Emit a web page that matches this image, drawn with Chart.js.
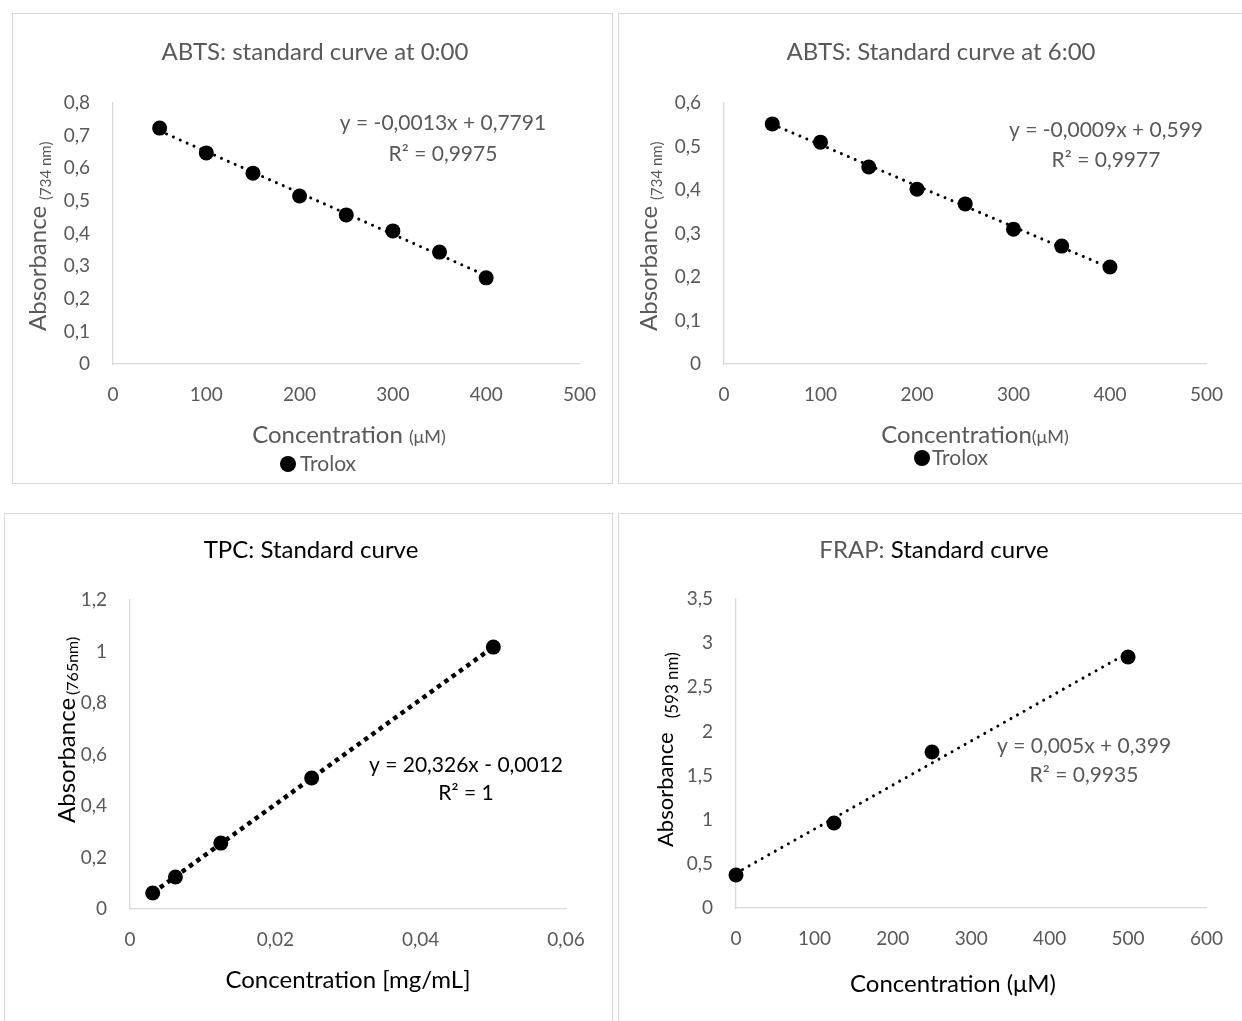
<!DOCTYPE html>
<html>
<head>
<meta charset="utf-8">
<script src="https://cdn.jsdelivr.net/npm/chart.js@4.4.0/dist/chart.umd.min.js"></script>
<style>
  body { margin: 0; background: #fff; width: 1242px; height: 1021px; position: relative; overflow: hidden; }
  .box { position: absolute; border: 1px solid #d9d9d9; box-sizing: border-box; }
  canvas { position: absolute; }
</style>
</head>
<body>
<div class="box" style="left:12px;top:13px;width:601px;height:471px"></div>
<div class="box" style="left:618px;top:13px;width:640px;height:471px"></div>
<div class="box" style="left:4px;top:513px;width:609px;height:520px"></div>
<div class="box" style="left:618px;top:513px;width:640px;height:520px"></div>

<canvas id="c1" width="615" height="495" style="left:0;top:0"></canvas>
<canvas id="c2" width="627" height="495" style="left:615px;top:0"></canvas>
<canvas id="c3" width="615" height="526" style="left:0;top:495px"></canvas>
<canvas id="c4" width="627" height="526" style="left:615px;top:495px"></canvas>

<script>
// ---- data ----
const abts0Conc = [50, 100, 150, 200, 250, 300, 350, 400];
const abts0Abs  = [0.723, 0.647, 0.585, 0.515, 0.457, 0.408, 0.343, 0.264];

const abts6Conc = [50, 100, 150, 200, 250, 300, 350, 400];
const abts6Abs  = [0.552, 0.510, 0.453, 0.402, 0.368, 0.310, 0.271, 0.223];

const tpcConc = [0.003125, 0.00625, 0.0125, 0.025, 0.05];
const tpcAbs  = [0.062, 0.124, 0.256, 0.509, 1.017];

const frapConc = [0, 125, 250, 500];
const frapAbs  = [0.374, 0.963, 1.767, 2.843];

// axis ranges [min, max, step]
const abts0X = [0, 500, 100], abts0Y = [0, 0.8, 0.1];
const abts6X = [0, 500, 100], abts6Y = [0, 0.6, 0.1];
const tpcX = [0, 0.06, 0.02],  tpcY = [0, 1.2, 0.2];
const frapX = [0, 600, 100],   frapY = [0, 3.5, 0.5];

// trendline labels as printed
const abts0Eq = ['y = -0,0013x + 0,7791', 'R² = 0,9975'];
const abts6Eq = ['y = -0,0009x + 0,599', 'R² = 0,9977'];
const tpcEq   = ['y = 20,326x - 0,0012', 'R² = 1'];
const frapEq  = ['y = 0,005x + 0,399', 'R² = 0,9935'];

const FONT = 'Lato, "Open Sans", sans-serif';
const GRAY = '#595959';
const BLACK = '#000000';

function comma(v) {
  return String(+Number(v).toFixed(4)).replace('.', ',');
}

// least squares line through the points, drawn from min x to max x
function trend(xs, ys) {
  const n = xs.length;
  const mx = xs.reduce((a, b) => a + b, 0) / n;
  const my = ys.reduce((a, b) => a + b, 0) / n;
  let sxy = 0, sxx = 0;
  for (let i = 0; i < n; i++) {
    sxy += (xs[i] - mx) * (ys[i] - my);
    sxx += (xs[i] - mx) * (xs[i] - mx);
  }
  const m = sxy / sxx, b = my - m * mx;
  const x0 = Math.min(...xs), x1 = Math.max(...xs);
  return [{ x: x0, y: m * x0 + b }, { x: x1, y: m * x1 + b }];
}

// draws a run of text parts [{t, size, color}] starting at x
function drawParts(ctx, parts, x, y, align) {
  let total = 0;
  parts.forEach(p => { ctx.font = p.size + 'px ' + FONT; p.w = ctx.measureText(p.t).width; total += p.w; });
  let cx = align === 'center' ? x - total / 2 : x;
  ctx.textAlign = 'left';
  ctx.textBaseline = 'alphabetic';
  parts.forEach(p => {
    ctx.font = p.size + 'px ' + FONT;
    ctx.fillStyle = p.color;
    ctx.fillText(p.t, cx, y + (p.dy || 0));
    cx += p.w;
  });
}

const textPlugin = {
  id: 'panelText',
  afterDraw(chart) {
    const t = chart.options.plugins.panelText;
    const ctx = chart.ctx;
    ctx.save();
    drawParts(ctx, t.title.parts, t.title.x, t.title.y, 'center');
    // equation
    ctx.textAlign = 'center';
    ctx.textBaseline = 'alphabetic';
    ctx.fillStyle = t.eq.color;
    ctx.font = t.eq.size + 'px ' + FONT;
    ctx.fillText(t.eq.lines[0], t.eq.x, t.eq.y[0]);
    ctx.fillText(t.eq.lines[1], t.eq.x, t.eq.y[1]);
    // x axis title
    drawParts(ctx, t.xTitle.parts, t.xTitle.x, t.xTitle.y, 'center');
    // y axis title (rotated, with small subscript)
    const yt = t.yTitle;
    ctx.save();
    ctx.translate(yt.x, yt.y);
    ctx.rotate(-Math.PI / 2);
    ctx.textAlign = 'left';
    ctx.fillStyle = yt.color;
    ctx.font = yt.size + 'px ' + FONT;
    ctx.fillText(yt.main, 0, 0);
    const mw = ctx.measureText(yt.main).width;
    ctx.font = yt.subSize + 'px ' + FONT;
    ctx.fillText(yt.sub, mw + yt.gap, yt.shift);
    ctx.restore();
    // legend
    if (t.legend) {
      const lg = t.legend;
      ctx.fillStyle = BLACK;
      ctx.beginPath();
      ctx.arc(lg.mx, lg.my, 8, 0, Math.PI * 2);
      ctx.fill();
      ctx.fillStyle = GRAY;
      ctx.font = lg.size + 'px ' + FONT;
      ctx.textAlign = 'left';
      ctx.fillText(chart.data.datasets[0].label, lg.tx, lg.ty);
    }
    ctx.restore();
  }
};

function makeChart(id, cfg) {
  const pts = cfg.xs.map((x, i) => ({ x: x, y: cfg.ys[i] }));
  const axis = (r, isX) => ({
    type: 'linear',
    min: r[0], max: r[1],
    grid: { display: false, drawTicks: false },
    border: { display: true, color: '#d9d9d9', width: 1.3 },
    ticks: {
      stepSize: r[2],
      color: GRAY,
      padding: isX ? 19 : 23,
      font: { family: FONT, size: 19 },
      callback: v => comma(v)
    },
    afterFit: s => { if (isX) s.height = 40; else s.width = 50; }
  });
  return new Chart(document.getElementById(id), {
    type: 'scatter',
    data: {
      datasets: [
        {
          label: cfg.label,
          data: pts,
          pointRadius: 7.5,
          pointBackgroundColor: BLACK,
          pointBorderColor: BLACK,
          pointBorderWidth: 0,
          clip: false,
          order: 1
        },
        {
          label: 'trend',
          data: trend(cfg.xs, cfg.ys),
          showLine: true,
          pointRadius: 0,
          borderColor: BLACK,
          borderWidth: cfg.dash.width,
          borderDash: cfg.dash.pattern,
          borderCapStyle: cfg.dash.cap,
          clip: false,
          order: 0
        }
      ]
    },
    options: {
      responsive: false,
      animation: false,
      events: [],
      layout: { padding: cfg.padding },
      scales: { x: axis(cfg.xr, true), y: axis(cfg.yr, false) },
      plugins: {
        legend: { display: false },
        tooltip: { enabled: false },
        title: { display: false },
        panelText: cfg.text
      }
    },
    plugins: [textPlugin]
  });
}

const roundDots = { width: 3, pattern: [0.01, 7.5], cap: 'round' };

makeChart('c1', {
  label: 'Trolox', xs: abts0Conc, ys: abts0Abs, xr: abts0X, yr: abts0Y,
  dash: roundDots,
  padding: { left: 63, right: 32, top: 103, bottom: 91 },
  text: {
    title: { x: 315, y: 60, parts: [{ t: 'ABTS: standard curve at 0:00', size: 24, color: GRAY }] },
    eq: { x: 443, y: [130, 161], lines: abts0Eq, size: 21, color: GRAY },
    xTitle: { x: 349, y: 443, parts: [{ t: 'Concentration ', size: 24, color: GRAY }, { t: '(μM)', size: 18, color: GRAY }] },
    yTitle: { x: 46, y: 331, main: 'Absorbance', sub: '(734 nm)', size: 24, subSize: 15, gap: 6, shift: 5, color: GRAY },
    legend: { mx: 288, my: 464, tx: 300, ty: 471, size: 21 }
  }
});

makeChart('c2', {
  label: 'Trolox', xs: abts6Conc, ys: abts6Abs, xr: abts6X, yr: abts6Y,
  dash: roundDots,
  padding: { left: 59, right: 20, top: 103, bottom: 91 },
  text: {
    title: { x: 326, y: 60, parts: [{ t: 'ABTS: Standard curve at 6:00', size: 24, color: GRAY }] },
    eq: { x: 491, y: [137, 167], lines: abts6Eq, size: 21, color: GRAY },
    xTitle: { x: 360, y: 443, parts: [{ t: 'Concentration', size: 24, color: GRAY }, { t: '(μM)', size: 18, color: GRAY }] },
    yTitle: { x: 42, y: 331, main: 'Absorbance', sub: '(734 nm)', size: 24, subSize: 15, gap: 6, shift: 5, color: GRAY },
    legend: { mx: 307, my: 458, tx: 317, ty: 465, size: 21 }
  }
});

makeChart('c3', {
  label: 'TPC', xs: tpcConc, ys: tpcAbs, xr: tpcX, yr: tpcY,
  dash: { width: 4.5, pattern: [4.5, 4.5], cap: 'butt' },
  padding: { left: 80, right: 49, top: 105, bottom: 72 },
  text: {
    title: { x: 311, y: 63, parts: [{ t: 'TPC: Standard curve', size: 24, color: BLACK }] },
    eq: { x: 466, y: [277, 305], lines: tpcEq, size: 21, color: BLACK },
    xTitle: { x: 348, y: 493, parts: [{ t: 'Concentration [mg/mL]', size: 24, color: BLACK }] },
    yTitle: { x: 75, y: 328, main: 'Absorbance', sub: '(765nm)', size: 24, subSize: 16, gap: 3, shift: 3, color: BLACK }
  }
});

makeChart('c4', {
  label: 'FRAP', xs: frapConc, ys: frapAbs, xr: frapX, yr: frapY,
  dash: roundDots,
  padding: { left: 71, right: 33, top: 104, bottom: 73 },
  text: {
    title: { x: 319, y: 63, parts: [{ t: 'FRAP: ', size: 24, color: GRAY }, { t: 'Standard curve', size: 24, color: BLACK }] },
    eq: { x: 469, y: [258, 287], lines: frapEq, size: 21, color: GRAY },
    xTitle: { x: 338, y: 497, parts: [{ t: 'Concentration (μM)', size: 24, color: BLACK }] },
    yTitle: { x: 58, y: 352, main: 'Absorbance', sub: '(593 nm)', size: 22, subSize: 17, gap: 14, shift: 5, color: BLACK }
  }
});
</script>
</body>
</html>
